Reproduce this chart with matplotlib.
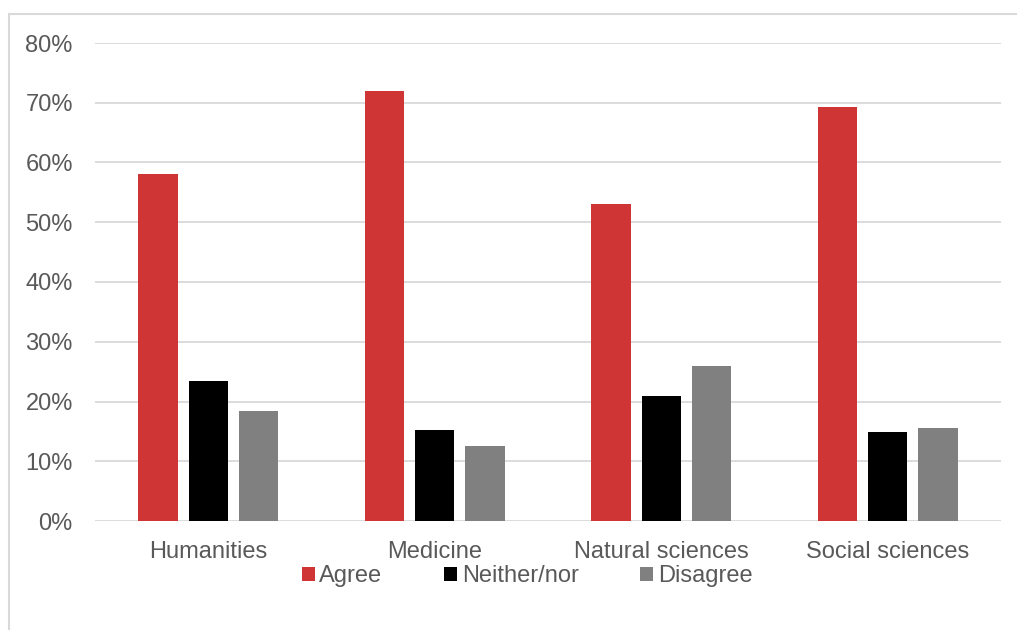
import numpy as np
import matplotlib
matplotlib.use("Agg")
from matplotlib import pyplot as plt
from matplotlib.patches import Rectangle

plt.rcParams['font.family'] = ['Liberation Sans', 'DejaVu Sans']

# Datos de la encuesta por área
categorias = ["Humanities", "Medicine", "Natural sciences", "Social sciences"]
agree = [0.581, 0.720, 0.531, 0.693]
neither = [0.234, 0.153, 0.209, 0.149]
disagree = [0.184, 0.126, 0.259, 0.156]
series = ["Agree", "Neither/nor", "Disagree"]
colores = ["#D03535", "#000000", "#808080"]

texto = "#595959"
rejilla = "#D9D9D9"

fig = plt.figure(figsize=(10.17, 6.30), dpi=100)
ax = fig.add_axes([95/1017, 1-521/630, 906/1017, 478/630])

# Marco exterior del gráfico
fig.patches.append(Rectangle((9/1017, -0.1), 1.2, 1 - 14/630 + 0.1,
                             transform=fig.transFigure, fill=False,
                             edgecolor=rejilla, linewidth=1.5))

x = np.arange(len(categorias))
ancho = 0.174
paso = 0.222
valores = [agree, neither, disagree]
for i in range(3):
    ax.bar(x + (i - 1) * paso, valores[i], ancho, color=colores[i],
           label=series[i], zorder=3)

ax.set_xlim(-0.5, len(categorias) - 0.5)
ax.set_ylim(0, 0.8)
ax.set_yticks(np.arange(0, 0.81, 0.1))
ax.set_yticklabels([f"{int(round(v*100))}%" for v in np.arange(0, 0.81, 0.1)])
ax.set_xticks(x)
ax.set_xticklabels(categorias)
ax.grid(axis='y', color=rejilla, linewidth=1.3, zorder=0)
for s in ax.spines.values():
    s.set_visible(False)
ax.tick_params(axis='both', length=0, labelsize=17, labelcolor=texto)
ax.tick_params(axis='y', pad=16)
ax.tick_params(axis='x', pad=14.5)

fig.legend(loc='center', bbox_to_anchor=(527/1017, 1-576/630), ncol=3,
           frameon=False, fontsize=17, labelcolor=texto,
           handlelength=0.55, handleheight=0.55, handletextpad=0.2,
           columnspacing=2.6)

fig.savefig("out.png", dpi=100)
